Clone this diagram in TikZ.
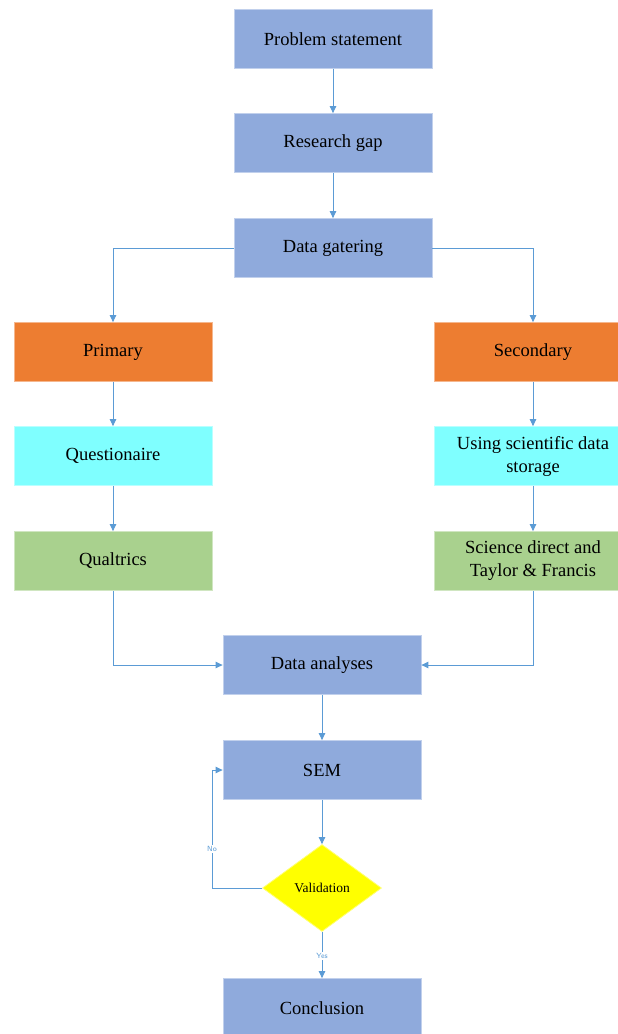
\documentclass[tikz,border=0pt]{standalone}
\usepackage{fontspec}
\setmainfont{Liberation Serif}
\usetikzlibrary{shapes.geometric,arrows.meta}
\definecolor{cblue}{HTML}{8FAADC}
\definecolor{corange}{HTML}{ED7D31}
\definecolor{ccyan}{HTML}{7FFFFF}
\definecolor{cgreen}{HTML}{A9D18E}
\definecolor{cyel}{HTML}{FFFF00}
\definecolor{cline}{HTML}{5B9BD5}
\begin{document}
\begin{tikzpicture}[x=1pt,y=-1pt,
  box/.style={rectangle,minimum width=198pt,minimum height=59pt,inner sep=0pt,
    align=center,font=\fontsize{18.5}{23}\selectfont,line width=0.8pt},
  bluebox/.style={box,fill=cblue,draw=cblue!55!white},
  orangebox/.style={box,fill=corange,draw=corange!55!white},
  cyanbox/.style={box,fill=ccyan,draw=ccyan!55!white},
  greenbox/.style={box,fill=cgreen,draw=cgreen!55!white},
  decision/.style={diamond,fill=cyel,draw=cyel!55!white,line width=0.8pt,inner sep=0pt,
    minimum width=119pt,minimum height=87pt,font=\fontsize{13.5}{16}\selectfont},
  conn/.style={draw=cline,line width=0.9pt,-{Triangle[length=7pt,width=6.5pt]}},
  lbl/.style={fill=white,inner sep=1pt,text=cline,font=\sffamily\fontsize{7.5}{9}\selectfont}]
\useasboundingbox (0,0) rectangle (618,1034);
\fill[white] (0,0) rectangle (618,1034);

\node[bluebox] (ps) at (333,39) {Problem statement};
\node[bluebox] (rg) at (333,143) {Research gap};
\node[bluebox] (dg) at (333,248) {Data gatering};
\node[orangebox] (pri) at (113,352) {Primary};
\node[orangebox] (sec) at (533,352) {Secondary};
\node[cyanbox] (qst) at (113,456) {Questionaire};
\node[cyanbox] (usd) at (533,456) {Using scientific data\\storage};
\node[greenbox] (qua) at (113,561) {Qualtrics};
\node[greenbox] (sci) at (533,561) {Science direct and\\Taylor \& Francis};
\node[bluebox] (da) at (322,665) {Data analyses};
\node[bluebox] (sem) at (322,770) {SEM};
\node[decision] (val) at (322,888) {Validation};
\node[bluebox] (con) at (322,1008) {Conclusion};

\coordinate (nocorner) at (212,888);

\draw[conn] (ps) -- (rg);
\draw[conn] (rg) -- (dg);
\draw[conn] (dg.west) -| (pri);
\draw[conn] (dg.east) -| (sec);
\draw[conn] (pri) -- (qst);
\draw[conn] (qst) -- (qua);
\draw[conn] (sec) -- (usd);
\draw[conn] (usd) -- (sci);
\draw[conn] (qua) |- (da);
\draw[conn] (sci) |- (da);
\draw[conn] (da) -- (sem);
\draw[conn] (sem) -- (val);
\draw[conn] (val.west) -- (nocorner) |- (sem.west);
\draw[conn] (val) -- (con);
\node[lbl] (nolbl) at (212,849) {No};
\node[lbl] (yeslbl) at (322,956) {Yes};
\end{tikzpicture}
\end{document}
